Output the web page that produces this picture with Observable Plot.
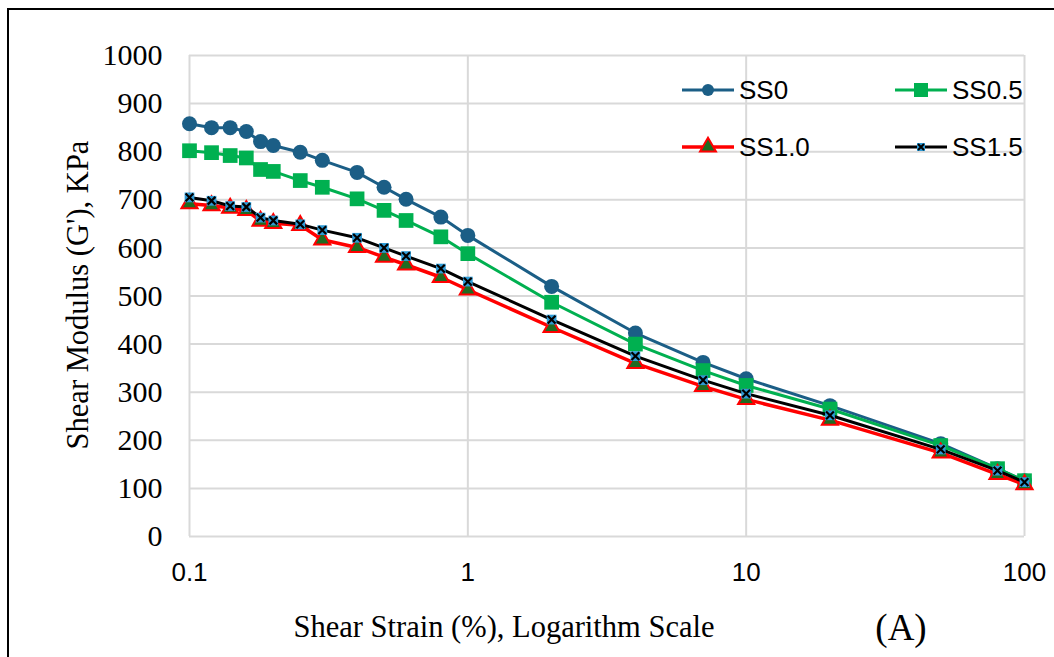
<!DOCTYPE html>
<html>
<head>
<meta charset="utf-8">
<script src="https://cdn.jsdelivr.net/npm/d3@7"></script>
<script src="https://cdn.jsdelivr.net/npm/@observablehq/plot@0.6"></script>
<style>
  html, body { margin: 0; padding: 0; background: #fff; overflow: hidden; }
  #wrap { position: relative; width: 1054px; height: 657px; }
  #frame { position: absolute; left: 7px; top: 8px; width: 1100px; height: 700px; border: 2px solid #000; box-sizing: border-box; }
  .lbl { position: absolute; white-space: nowrap; color: #000; }
</style>
</head>
<body>
<div id="wrap">
  <div id="frame"></div>
  <div id="chart" style="position:absolute;left:0;top:0;"></div>
  <div class="lbl" id="ylab" style="font-family:'Liberation Serif',serif;font-size:30.5px;left:78px;top:295px;transform:translate(-50%,-50%) rotate(-90deg);">Shear Modulus (G'), KPa</div>
  <div class="lbl" style="font-family:'Liberation Serif',serif;font-size:30.5px;left:504px;top:627px;transform:translate(-50%,-50%);">Shear Strain (%), Logarithm Scale</div>
  <div class="lbl" style="font-family:'Liberation Serif',serif;font-size:37px;left:901px;top:627px;transform:translate(-50%,-50%);">(A)</div>
  <svg id="legend" style="position:absolute;left:0;top:0;" width="1054" height="657"></svg>
</div>
<script>
const strain = [0.1, 0.12, 0.14, 0.16, 0.18, 0.2, 0.25, 0.3, 0.4, 0.5, 0.6, 0.8, 1, 2, 4, 7, 10, 20, 50, 80, 100];
const ss0  = [858, 850, 850, 842, 821, 813, 799, 782, 757, 726, 701, 664, 626, 520, 423, 362, 328, 272, 193, 141, 116];
const ss05 = [802, 798, 792, 787, 763, 759, 740, 726, 702, 678, 657, 623, 588, 487, 400, 345, 314, 265, 189, 141, 116];
const ss10 = [692, 688, 683, 678, 656, 651, 647, 617, 601, 581, 565, 539, 513, 435, 360, 312, 285, 242, 174, 129, 108];
const ss15 = [705, 698, 687, 685, 663, 657, 649, 637, 621, 600, 583, 557, 530, 451, 375, 325, 297, 252, 181, 137, 113];
const seriesNames = ["SS0", "SS0.5", "SS1.0", "SS1.5"];
const seriesValues = [ss0, ss05, ss10, ss15];
const xTicks = [0.1, 1, 10, 100];
const yTicks = [0, 100, 200, 300, 400, 500, 600, 700, 800, 900, 1000];

const data = [];
seriesNames.forEach((s, i) => strain.forEach((x, j) => data.push({series: s, x, y: seriesValues[i][j]})));
const of = s => data.filter(d => d.series === s);

const blue = "#1b5e86", green = "#00b050", red = "#ff0000", dkgreen = "#1f6b21", ltblue = "#2e9bd6";
const grid = "#d9d9d9";

const chart = Plot.plot({
  width: 1054,
  height: 657,
  marginLeft: 189,
  marginRight: 30,
  marginTop: 55,
  marginBottom: 121,
  style: {background: "transparent", overflow: "visible"},
  x: {type: "log", domain: [0.1, 100]},
  y: {domain: [0, 1000]},
  marks: [
    Plot.ruleY(yTicks, {stroke: grid, strokeWidth: 2}),
    Plot.ruleX(xTicks, {stroke: grid, strokeWidth: 2}),
    Plot.axisY({ticks: yTicks, tickSize: 0, tickPadding: 27, label: null, tickFormat: d => String(d), fontFamily: "Liberation Serif", fontSize: 30, fill: "#000"}),
    Plot.axisX({ticks: xTicks, tickSize: 0, tickPadding: 26, label: null, tickFormat: d => String(d), fontFamily: "Liberation Sans", fontSize: 26, fill: "#000"}),
    Plot.line(of("SS0"), {x: "x", y: "y", stroke: blue, strokeWidth: 3}),
    Plot.dot(of("SS0"), {x: "x", y: "y", r: 7.5, fill: blue, symbol: "circle"}),
    Plot.line(of("SS0.5"), {x: "x", y: "y", stroke: green, strokeWidth: 3}),
    Plot.dot(of("SS0.5"), {x: "x", y: "y", r: 8.3, fill: green, symbol: "square"}),
    Plot.line(of("SS1.0"), {x: "x", y: "y", stroke: red, strokeWidth: 3.5}),
    Plot.dot(of("SS1.0"), {x: "x", y: "y", r: 6, fill: dkgreen, stroke: red, strokeWidth: 2, symbol: "triangle"}),
    Plot.line(of("SS1.5"), {x: "x", y: "y", stroke: "#000", strokeWidth: 3}),
    Plot.dot(of("SS1.5"), {x: "x", y: "y", r: 5.5, fill: ltblue, symbol: "square"}),
    Plot.dot(of("SS1.5"), {x: "x", y: "y", r: 3.6, stroke: "#000", strokeWidth: 2.2, symbol: "times"})
  ]
});
document.getElementById("chart").appendChild(chart);

// Legend
const leg = d3.select("#legend");
const items = [
  {name: "SS0", x: 682, y: 90, color: blue},
  {name: "SS0.5", x: 895, y: 90, color: green},
  {name: "SS1.0", x: 682, y: 147, color: red},
  {name: "SS1.5", x: 895, y: 147, color: "#000"}
];
items.forEach(it => {
  const g = leg.append("g").attr("transform", `translate(${it.x},${it.y})`);
  g.append("line").attr("x1", 0).attr("x2", 52).attr("stroke", it.color).attr("stroke-width", it.name === "SS1.0" ? 3.5 : 3);
  if (it.name === "SS0") g.append("circle").attr("cx", 26).attr("r", 6).attr("fill", blue);
  if (it.name === "SS0.5") g.append("rect").attr("x", 19).attr("y", -7).attr("width", 14).attr("height", 14).attr("fill", green);
  if (it.name === "SS1.0") g.append("path").attr("d", d3.symbol(d3.symbolTriangle, 110)()).attr("transform", "translate(26,0)").attr("fill", dkgreen).attr("stroke", red).attr("stroke-width", 2);
  if (it.name === "SS1.5") {
    g.append("rect").attr("x", 22).attr("y", -4).attr("width", 8).attr("height", 8).attr("fill", ltblue);
    g.append("path").attr("d", "M23,-3L29,3M23,3L29,-3").attr("stroke", "#000").attr("stroke-width", 2);
  }
  g.append("text").attr("x", 57).attr("dy", "0.35em").attr("font-family", "Liberation Sans").attr("font-size", 26).attr("fill", "#000").text(it.name);
});
</script>
</body>
</html>
